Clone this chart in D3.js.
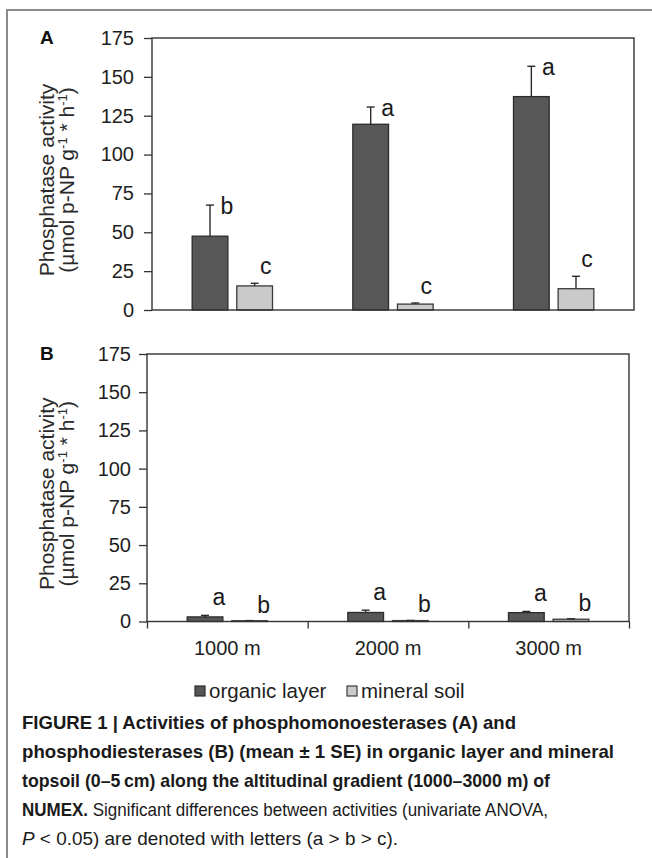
<!DOCTYPE html>
<html>
<head>
<meta charset="utf-8">
<script src="https://cdn.jsdelivr.net/npm/d3@7/dist/d3.min.js"></script>
<style>
  body { margin: 0; background: #fff; }
  svg { display: block; font-family: "Liberation Sans", Arial, sans-serif; }
</style>
</head>
<body>
<div id="chart"></div>
<script>
// values
var categories = ['1000 m', '2000 m', '3000 m'];
var seriesNames = ['organic layer', 'mineral soil'];
var yTicks = [0, 25, 50, 75, 100, 125, 150, 175];

var organicA = [47.5, 119.5, 137.3];
var organicASE = [20.0, 11.1, 19.5];
var mineralA = [15.5, 3.8, 13.7];
var mineralASE = [1.7, 0.7, 8.0];
var organicALetters = ['b', 'a', 'a'];
var mineralALetters = ['c', 'c', 'c'];

var organicB = [3.0, 5.9, 5.8];
var organicBSE = [1.0, 1.5, 0.8];
var mineralB = [0.5, 0.6, 1.5];
var mineralBSE = [0.1, 0.1, 0.3];
var organicBLetters = ['a', 'a', 'a'];
var mineralBLetters = ['b', 'b', 'b'];

var colors = {
  'organic layer': '#575757',
  'mineral soil': '#cacaca'
};
var strokes = {
  'organic layer': '#2b2b2b',
  'mineral soil': '#3a3a3a'
};

var width = 652, height = 858;

var svg = d3.select('#chart')
  .append('svg')
  .attr('width', width)
  .attr('height', height);

// figure frame (open on right / bottom)
svg.append('path')
  .attr('d', 'M7,' + height + 'V10H' + width)
  .attr('fill', 'none')
  .attr('stroke', '#8c8c8c')
  .attr('stroke-width', 2);

var drawPanel = function (p) {
  var y = d3.scaleLinear().domain([0, 175]).range([p.bottom, p.top]);
  var x0 = d3.scaleBand().domain(categories).range([p.left, p.right]);
  var bw = x0.bandwidth();
  var x1 = d3.scaleBand().domain(seriesNames)
    .range([bw * 0.25, bw * 0.75])
    .paddingInner(0.2);

  var rows = [];
  categories.forEach(function (c, i) {
    rows.push({ cat: c, series: 'organic layer', value: p.organic[i], se: p.organicSE[i], letter: p.organicLetters[i] });
    rows.push({ cat: c, series: 'mineral soil', value: p.mineral[i], se: p.mineralSE[i], letter: p.mineralLetters[i] });
  });

  var g = svg.append('g');

  // y axis
  var yAxis = g.append('g')
    .attr('transform', 'translate(' + p.left + ',0)')
    .call(d3.axisLeft(y).tickValues(yTicks).tickSize(8).tickPadding(p.tickPad));
  yAxis.select('.domain').remove();
  yAxis.selectAll('line').attr('stroke', '#333').attr('stroke-width', 1.3);
  yAxis.selectAll('text')
    .attr('fill', '#1e1e1e')
    .style('font-size', '20px')
    .style('font-family', '"Liberation Sans", Arial, sans-serif');

  // x axis ticks at group boundaries (panel B only)
  if (p.xTicks) {
    var xEdge = d3.scaleLinear().domain([0, categories.length]).range([p.left, p.right]);
    var xAxis = g.append('g')
      .attr('transform', 'translate(0,' + p.bottom + ')')
      .call(d3.axisBottom(xEdge).tickValues(d3.range(categories.length + 1)).tickSize(7).tickFormat(''));
    xAxis.select('.domain').remove();
    xAxis.selectAll('line').attr('stroke', '#333').attr('stroke-width', 1.3);

    g.selectAll('.cat')
      .data(categories)
      .enter()
      .append('text')
      .attr('class', 'cat')
      .attr('x', function (d) { return x0(d) + bw / 2; })
      .attr('y', p.bottom + 33)
      .attr('text-anchor', 'middle')
      .attr('fill', '#1e1e1e')
      .style('font-size', '20px')
      .text(function (d) { return d; });
  }

  // bars
  g.selectAll('.bar')
    .data(rows)
    .enter()
    .append('rect')
    .attr('class', 'bar')
    .attr('x', function (d) { return x0(d.cat) + x1(d.series); })
    .attr('y', function (d) { return y(d.value); })
    .attr('width', x1.bandwidth())
    .attr('height', function (d) { return y(0) - y(d.value); })
    .attr('fill', function (d) { return colors[d.series]; })
    .attr('stroke', function (d) { return strokes[d.series]; })
    .attr('stroke-width', 1.3);

  // error bars (upper only)
  var err = g.selectAll('.err')
    .data(rows)
    .enter()
    .append('g')
    .attr('class', 'err')
    .attr('stroke', '#2b2b2b')
    .attr('stroke-width', 1.4);
  err.append('line')
    .attr('x1', function (d) { return x0(d.cat) + x1(d.series) + x1.bandwidth() / 2; })
    .attr('x2', function (d) { return x0(d.cat) + x1(d.series) + x1.bandwidth() / 2; })
    .attr('y1', function (d) { return y(d.value); })
    .attr('y2', function (d) { return y(d.value + d.se); });
  err.append('line')
    .attr('x1', function (d) { return x0(d.cat) + x1(d.series) + x1.bandwidth() / 2 - 4; })
    .attr('x2', function (d) { return x0(d.cat) + x1(d.series) + x1.bandwidth() / 2 + 4; })
    .attr('y1', function (d) { return y(d.value + d.se); })
    .attr('y2', function (d) { return y(d.value + d.se); });

  // significance letters
  g.selectAll('.letter')
    .data(rows)
    .enter()
    .append('text')
    .attr('class', 'letter')
    .attr('x', function (d) {
      return x0(d.cat) + x1(d.series) + x1.bandwidth() / 2 + (d.series === 'organic layer' ? p.letterDxO : p.letterDxM);
    })
    .attr('y', function (d) {
      return y(d.value + d.se) + (d.series === 'organic layer' ? p.letterDyO : p.letterDyM);
    })
    .attr('text-anchor', 'middle')
    .attr('fill', '#1a1a1a')
    .style('font-size', '23px')
    .text(function (d) { return d.letter; });

  // plot frame
  g.append('rect')
    .attr('x', p.left)
    .attr('y', p.top)
    .attr('width', p.right - p.left)
    .attr('height', p.bottom - p.top)
    .attr('fill', 'none')
    .attr('stroke', '#333')
    .attr('stroke-width', 1.4);

  // panel letter
  g.append('text')
    .attr('x', 40)
    .attr('y', p.top + 6)
    .attr('fill', '#111')
    .style('font-size', '19px')
    .style('font-weight', 'bold')
    .text(p.label);

  // y axis title
  var cy = (p.top + p.bottom) / 2 + 6;
  var title = g.append('text')
    .attr('transform', 'translate(' + 54 + ',' + cy + ') rotate(-90)')
    .attr('text-anchor', 'middle')
    .attr('fill', '#2a2a2a')
    .style('font-size', '21px');
  title.append('tspan').attr('x', 0).attr('dy', 0).text('Phosphatase activity');
  title.append('tspan').attr('x', 0).attr('dy', 20).text('(µmol p-NP g');
  title.append('tspan').attr('dy', -7).style('font-size', '13px').text('-1');
  title.append('tspan').attr('dy', 7).text(' * h');
  title.append('tspan').attr('dy', -7).style('font-size', '13px').text('-1');
  title.append('tspan').attr('dy', 7).text(')');
};

drawPanel({
  label: 'A', left: 152, right: 634, top: 38, bottom: 310, tickPad: 10,
  organic: organicA, organicSE: organicASE, organicLetters: organicALetters,
  mineral: mineralA, mineralSE: mineralASE, mineralLetters: mineralALetters,
  xTicks: false,
  letterDxO: 17, letterDyO: 9, letterDxM: 11, letterDyM: -9
});

drawPanel({
  label: 'B', left: 147, right: 629, top: 354, bottom: 621.5, tickPad: 8,
  organic: organicB, organicSE: organicBSE, organicLetters: organicBLetters,
  mineral: mineralB, mineralSE: mineralBSE, mineralLetters: mineralBLetters,
  xTicks: true,
  letterDxO: 14, letterDyO: -10, letterDxM: 14, letterDyM: -8
});

// legend
var legend = svg.append('g').attr('transform', 'translate(195,686)');
var item = legend.selectAll('.item')
  .data(seriesNames)
  .enter()
  .append('g')
  .attr('class', 'item')
  .attr('transform', function (d, i) { return 'translate(' + (i * 152) + ',0)'; });
item.append('rect')
  .attr('width', 10)
  .attr('height', 10)
  .attr('fill', function (d) { return colors[d]; })
  .attr('stroke', function (d) { return strokes[d]; })
  .attr('stroke-width', 1.2);
item.append('text')
  .attr('x', 14)
  .attr('y', 12)
  .attr('fill', '#1e1e1e')
  .style('font-size', '20.5px')
  .text(function (d) { return d; });

// caption
var caption = svg.append('g').attr('fill', '#1a1a1a').style('font-size', '18.5px');
caption.append('text').attr('x', 22).attr('y', 729)
  .attr('textLength', 494).attr('lengthAdjust', 'spacingAndGlyphs')
  .style('font-weight', 'bold')
  .text('FIGURE 1 | Activities of phosphomonoesterases (A) and');
caption.append('text').attr('x', 22).attr('y', 758)
  .attr('textLength', 592).attr('lengthAdjust', 'spacingAndGlyphs')
  .style('font-weight', 'bold')
  .text('phosphodiesterases (B) (mean \u00b1 1 SE) in organic layer and mineral');
caption.append('text').attr('x', 22).attr('y', 787)
  .attr('textLength', 528).attr('lengthAdjust', 'spacingAndGlyphs')
  .style('font-weight', 'bold')
  .text('topsoil (0\u20135\u2009cm) along the altitudinal gradient (1000\u20133000 m) of');
var c4 = caption.append('text').attr('x', 22).attr('y', 816)
  .attr('textLength', 526).attr('lengthAdjust', 'spacingAndGlyphs');
c4.append('tspan').style('font-weight', 'bold').text('NUMEX.');
c4.append('tspan').text(' Significant differences between activities (univariate ANOVA,');
var c5 = caption.append('text').attr('x', 22).attr('y', 845)
  .attr('textLength', 376).attr('lengthAdjust', 'spacingAndGlyphs');
c5.append('tspan').style('font-style', 'italic').text('P');
c5.append('tspan').text(' < 0.05) are denoted with letters (a > b > c).');
</script>
</body>
</html>
